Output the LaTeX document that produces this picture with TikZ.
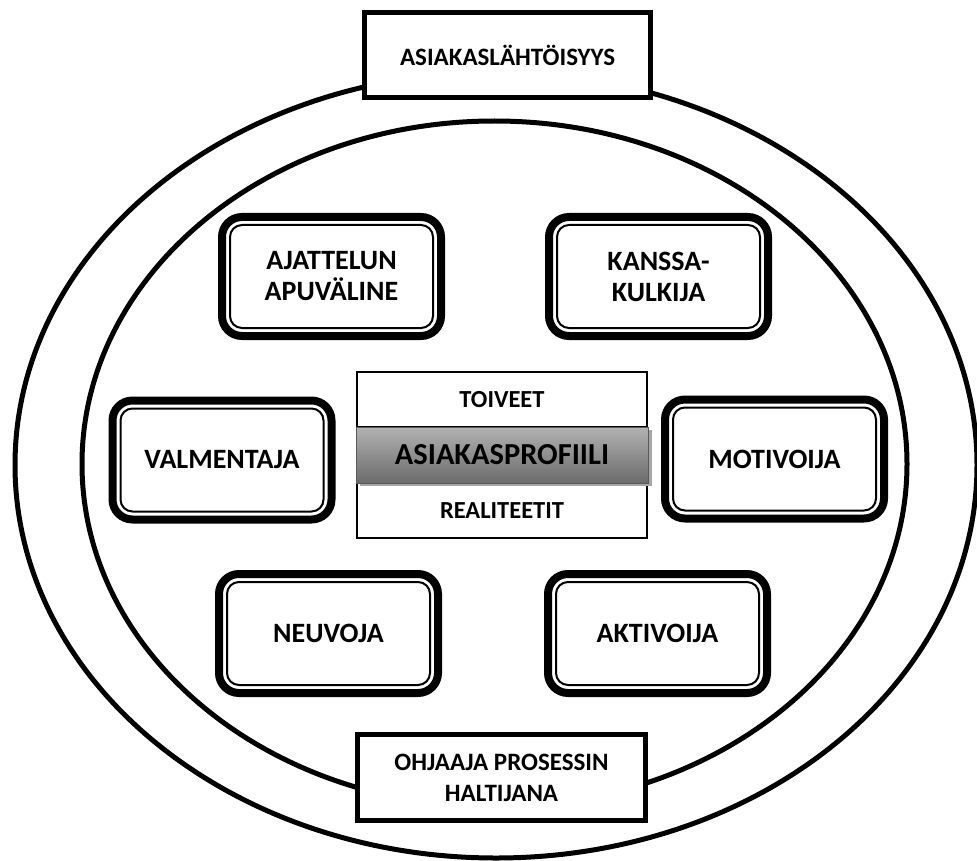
\documentclass[tikz,border=0pt]{standalone}
\usepackage{fontspec}
\setmainfont{Carlito}
\usetikzlibrary{shadows}
\begin{document}
\begin{tikzpicture}[x=1pt,y=-1pt,
  ring/.style={line width=5pt},
  rolebox/.style={draw, fill=white, line width=8pt, rounded corners=20pt, outer sep=0pt,
    minimum width=219pt, minimum height=119pt, inner sep=0pt, align=center,
    font=\bfseries\fontsize{28}{31}\selectfont},
  rolerim/.style={line width=2pt, rounded corners=12pt},
  tagbox/.style={draw, fill=white, line width=5pt, inner sep=0pt, align=center,
    font=\bfseries\fontsize{25}{31}\selectfont},
  listbox/.style={draw, fill=white, line width=1.5pt, inner sep=0pt,
    minimum width=290pt, minimum height=55pt,
    font=\bfseries\fontsize{24.5}{27}\selectfont},
  profile/.style={draw=black!65, line width=1pt, inner sep=0pt,
    minimum width=292pt, minimum height=56pt,
    top color=black!30, middle color=black!6, bottom color=black!58,
    drop shadow={shadow xshift=4pt, shadow yshift=-3pt, fill=black!35, opacity=1},
    font=\bfseries\fontsize{30.5}{33}\selectfont}
]
\useasboundingbox (0,0) rectangle (977,861);

% two concentric rings
\draw[ring] (496,465) ellipse [x radius=481, y radius=393];
\draw[ring] (494.5,464) ellipse [x radius=412.5, y radius=343];

% labels on the outer ring
\node[tagbox, minimum width=286pt, minimum height=85pt] (asiakas) at (507.5,55) {ASIAKASLÄHTÖISYYS};
\node[tagbox, minimum width=288pt, minimum height=86pt] (ohjaaja) at (501.5,777.5) {OHJAAJA PROSESSIN\\HALTIJANA};

% roles around the profile
\node[rolebox] (ajattelu) at (331.5,276.5) {AJATTELUN\\APUVÄLINE};
\node[rolebox] (kanssa)   at (658.5,276.5) {KANSSA-\\KULKIJA};
\node[rolebox] (valm)     at (222,460)     {VALMENTAJA};
\node[rolebox] (moti)     at (774.5,459)   {MOTIVOIJA};
\node[rolebox] (neuvoja)  at (328.5,633.5) {NEUVOJA};
\node[rolebox] (aktiv)    at (657.5,633.5) {AKTIVOIJA};
\foreach \n in {ajattelu,kanssa,valm,moti,neuvoja,aktiv}
  \draw[rolerim] ([xshift=8pt,yshift=-8pt]\n.north west) rectangle ([xshift=-8pt,yshift=8pt]\n.south east);

% customer profile with wishes and realities
\node[listbox] (toiveet) at (502,399.5) {TOIVEET};
\node[listbox] (realit)  at (502,510.5) {REALITEETIT};
\node[profile] (profiili) at (502,455) {ASIAKASPROFIILI};
\end{tikzpicture}
\end{document}
